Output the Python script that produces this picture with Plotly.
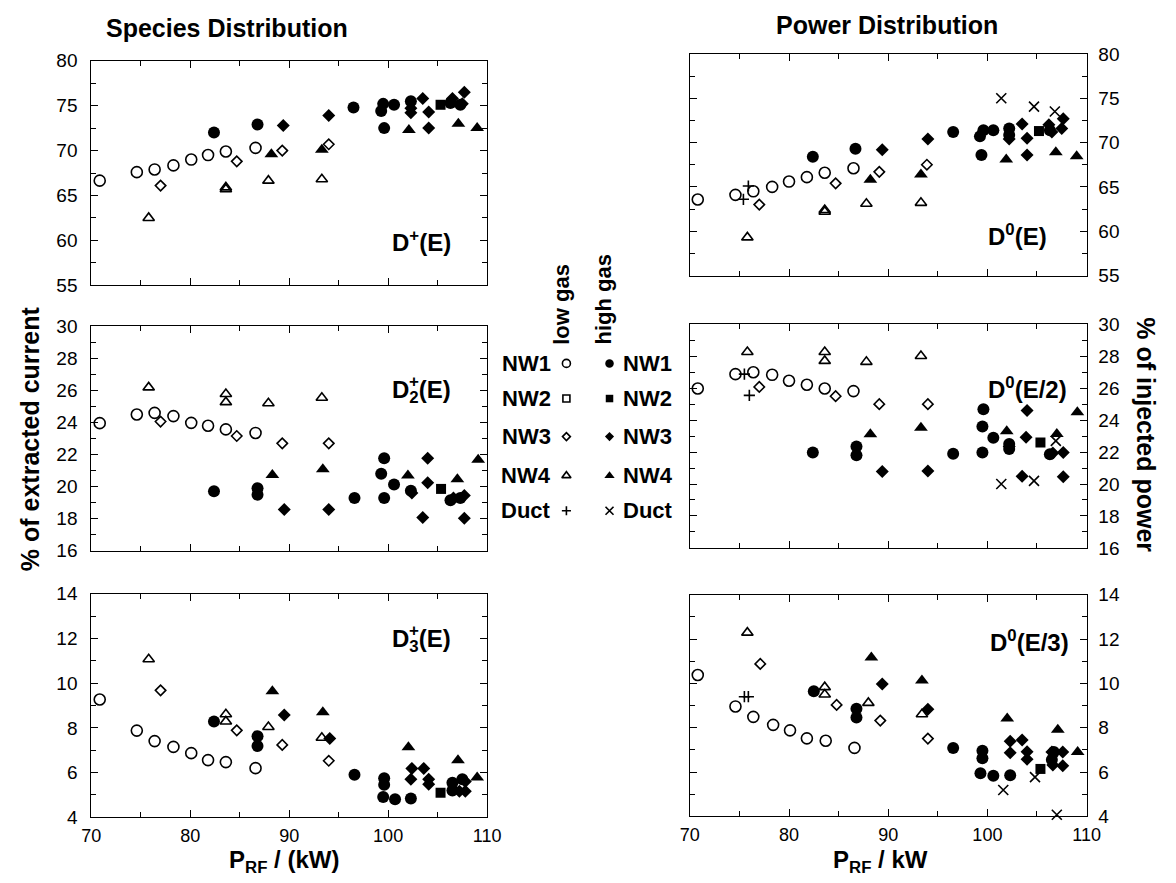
import plotly.graph_objects as go

W, H = 1176, 883
FONT = "Liberation Sans, Arial, Helvetica, sans-serif"

# ---------------- DATA ----------------
# Panel A : D+(E)  (% of extracted current)
A_low_nw1_x = [70.85, 74.6, 76.4, 78.3, 80.1, 81.8, 83.6, 86.6]
A_low_nw1_y = [66.65, 67.6, 67.9, 68.35, 69.0, 69.5, 69.9, 70.3]
A_low_nw3_x = [77.0, 84.7, 89.3, 94.0]
A_low_nw3_y = [66.1, 68.8, 70.0, 70.7]
A_low_nw4_x = [75.8, 83.6, 83.6, 87.9, 93.3]
A_low_nw4_y = [62.5, 65.7, 65.9, 66.65, 66.8]
A_high_nw1_x = [82.4, 86.8, 96.5, 99.3, 99.5, 99.6, 100.6, 102.3, 106.3, 107.3]
A_high_nw1_y = [72.0, 72.9, 74.8, 74.4, 75.2, 72.5, 75.1, 75.5, 75.3, 75.1]
A_high_nw2_x = [105.3]
A_high_nw2_y = [75.1]
A_high_nw3_x = [89.4, 94.0, 102.3, 102.3, 103.5, 104.1, 104.1, 106.5, 107.7, 107.5]
A_high_nw3_y = [72.8, 73.9, 74.7, 74.2, 75.8, 74.3, 72.5, 75.8, 76.5, 75.2]
A_high_nw4_x = [88.2, 93.3, 102.1, 107.1, 109.0]
A_high_nw4_y = [69.6, 70.1, 72.3, 73.0, 72.5]

# Panel B : D2+(E)
B_low_nw1_x = [70.85, 74.6, 76.4, 78.3, 80.1, 81.8, 83.6, 86.6]
B_low_nw1_y = [23.96, 24.5, 24.6, 24.4, 23.98, 23.8, 23.57, 23.35]
B_low_nw3_x = [77.0, 84.7, 89.3, 94.0]
B_low_nw3_y = [24.06, 23.16, 22.7, 22.7]
B_low_nw4_x = [75.8, 83.6, 83.6, 87.9, 93.3]
B_low_nw4_y = [26.19, 25.78, 25.27, 25.2, 25.54]
B_high_nw1_x = [82.4, 86.8, 86.8, 96.6, 99.3, 99.6, 99.6, 100.6, 102.3, 106.3, 107.3]
B_high_nw1_y = [19.72, 19.9, 19.5, 19.29, 20.8, 21.77, 19.29, 20.14, 19.74, 19.15, 19.3]
B_high_nw2_x = [105.35]
B_high_nw2_y = [19.86]
B_high_nw3_x = [89.5, 94.0, 102.4, 104.0, 104.0, 103.5, 106.6, 107.7, 107.7]
B_high_nw3_y = [18.58, 18.58, 19.6, 21.77, 20.25, 18.07, 19.3, 19.45, 18.03]
B_high_nw4_x = [88.3, 93.4, 102.0, 107.0, 109.1]
B_high_nw4_y = [20.73, 21.08, 20.7, 20.46, 21.68]

# Panel C : D3+(E)
C_low_nw1_x = [70.85, 74.6, 76.4, 78.3, 80.1, 81.8, 83.6, 86.6]
C_low_nw1_y = [9.27, 7.88, 7.41, 7.15, 6.87, 6.56, 6.47, 6.2]
C_low_nw3_x = [77.0, 84.7, 89.3, 94.0]
C_low_nw3_y = [9.68, 7.89, 7.24, 6.53]
C_low_nw4_x = [75.8, 83.6, 83.6, 87.9, 93.3]
C_low_nw4_y = [11.07, 8.61, 8.29, 8.04, 7.56]
C_high_nw1_x = [82.4, 86.8, 86.8, 96.6, 99.6, 99.6, 99.5, 100.7, 102.3, 106.5, 106.5, 107.5]
C_high_nw1_y = [8.29, 7.63, 7.19, 5.9, 5.75, 5.46, 4.91, 4.81, 4.84, 5.55, 5.2, 5.7]
C_high_nw2_x = [105.3]
C_high_nw2_y = [5.1]
C_high_nw3_x = [89.5, 94.1, 102.4, 103.6, 102.3, 104.1, 104.1, 107.2, 107.8, 107.8]
C_high_nw3_y = [8.58, 7.53, 6.19, 6.19, 5.7, 5.7, 5.48, 5.17, 5.6, 5.17]
C_high_nw4_x = [88.3, 93.4, 102.05, 107.06, 109.0]
C_high_nw4_y = [9.64, 8.7, 7.13, 6.55, 5.78]

# Panel D : D0(E)  (% of injected power)
D_low_nw1_x = [70.8, 74.6, 76.4, 78.3, 80.0, 81.8, 83.6, 86.5]
D_low_nw1_y = [63.58, 64.1, 64.5, 65.0, 65.6, 66.1, 66.6, 67.1]
D_low_nw3_x = [77.0, 84.7, 89.1, 93.9]
D_low_nw3_y = [63.0, 65.4, 66.7, 67.5]
D_low_nw4_x = [75.8, 83.6, 83.6, 87.8, 93.3]
D_low_nw4_y = [59.3, 62.2, 62.4, 63.1, 63.2]
D_low_duct_x = [75.4, 75.9]
D_low_duct_y = [63.6, 65.1]
D_high_nw1_x = [82.4, 86.7, 96.55, 99.25, 99.6, 99.4, 100.6, 102.2, 102.2, 106.3]
D_high_nw1_y = [68.4, 69.3, 71.2, 70.7, 71.4, 68.6, 71.4, 71.6, 70.85, 71.4]
D_high_nw2_x = [105.2]
D_high_nw2_y = [71.3]
D_high_nw3_x = [89.4, 94.0, 102.2, 103.5, 104.0, 104.0, 106.2, 107.65, 107.5, 106.5]
D_high_nw3_y = [69.2, 70.4, 70.4, 72.1, 70.5, 68.6, 72.0, 72.7, 71.6, 71.2]
D_high_nw4_x = [88.2, 93.3, 101.9, 106.9, 109.0]
D_high_nw4_y = [65.8, 66.4, 68.1, 68.9, 68.45]
D_high_duct_x = [101.4, 104.7, 106.8]
D_high_duct_y = [75.0, 74.05, 73.5]

# Panel E : D0(E/2)
E_low_nw1_x = [70.8, 74.6, 76.4, 78.3, 80.0, 81.8, 83.6, 86.5]
E_low_nw1_y = [25.98, 26.88, 27.0, 26.84, 26.47, 26.22, 25.98, 25.82]
E_low_nw3_x = [77.0, 84.7, 89.1, 94.0]
E_low_nw3_y = [26.08, 25.5, 25.0, 25.0]
E_low_nw4_x = [75.8, 83.6, 83.6, 87.8, 93.3]
E_low_nw4_y = [28.27, 28.27, 27.71, 27.65, 28.02]
E_low_duct_x = [75.5, 76.0]
E_low_duct_y = [26.88, 25.55]
E_high_nw1_x = [82.4, 86.8, 86.8, 96.55, 99.6, 99.5, 99.5, 100.6, 102.2, 102.2, 106.3]
E_high_nw1_y = [21.98, 22.35, 21.8, 21.9, 24.68, 23.6, 21.97, 22.9, 22.5, 22.2, 21.87]
E_high_nw2_x = [105.35]
E_high_nw2_y = [22.6]
E_high_nw3_x = [89.4, 94.0, 102.2, 103.5, 104.0, 103.9, 106.6, 107.65, 107.65]
E_high_nw3_y = [20.78, 20.82, 22.35, 20.48, 24.6, 22.93, 21.95, 21.97, 20.45]
E_high_nw4_x = [88.2, 93.3, 101.95, 107.0, 109.07]
E_high_nw4_y = [23.12, 23.53, 23.3, 23.14, 24.5]
E_high_duct_x = [101.4, 104.7, 106.9]
E_high_duct_y = [20.0, 20.2, 22.7]

# Panel F : D0(E/3)
F_low_nw1_x = [70.8, 74.6, 76.4, 78.4, 80.1, 81.8, 83.7, 86.6]
F_low_nw1_y = [10.38, 8.96, 8.49, 8.13, 7.88, 7.52, 7.41, 7.09]
F_low_nw3_x = [77.1, 84.8, 89.2, 94.0]
F_low_nw3_y = [10.88, 9.03, 8.32, 7.51]
F_low_nw4_x = [75.8, 83.6, 83.6, 88.0, 93.4]
F_low_nw4_y = [12.29, 9.83, 9.5, 9.12, 8.61]
F_low_duct_x = [75.5, 75.9]
F_low_duct_y = [9.4, 9.4]
F_high_nw1_x = [82.5, 86.8, 86.8, 96.55, 99.5, 99.5, 99.3, 100.6, 102.3, 106.5, 106.7]
F_high_nw1_y = [9.65, 8.86, 8.46, 7.09, 6.96, 6.62, 5.94, 5.83, 5.86, 6.55, 6.9]
F_high_nw2_x = [105.35]
F_high_nw2_y = [6.14]
F_high_nw3_x = [89.4, 94.0, 102.3, 102.3, 103.5, 104.0, 104.0, 106.5, 107.6, 106.6, 107.6]
F_high_nw3_y = [9.97, 8.83, 7.39, 6.87, 7.45, 6.91, 6.58, 6.9, 6.9, 6.32, 6.28]
F_high_nw4_x = [88.3, 93.4, 102.0, 107.1, 109.1]
F_high_nw4_y = [11.17, 10.13, 8.42, 7.91, 6.9]
F_high_duct_x = [101.6, 104.8, 107.0]
F_high_duct_y = [5.19, 5.77, 4.07]

# tick / label text
X_TICKS = [70, 80, 90, 100, 110]
LEGEND_NAMES = ["NW1", "NW2", "NW3", "NW4", "Duct"]

# ---------------- STYLE ----------------
STYLE = {
    "low_nw1": dict(symbol="circle-open", size=11, open=True),
    "low_nw2": dict(symbol="square-open", size=8, open=True),
    "low_nw3": dict(symbol="diamond-open", size=8, open=True),
    "low_nw4": dict(symbol="triangle-up-open", size=10, open=True),
    "low_duct": dict(symbol="cross-thin-open", size=8, open=True),
    "high_nw1": dict(symbol="circle", size=12, open=False),
    "high_nw2": dict(symbol="square", size=10, open=False),
    "high_nw3": dict(symbol="diamond", size=10, open=False),
    "high_nw4": dict(symbol="triangle-up", size=12, open=False),
    "high_duct": dict(symbol="x-thin-open", size=10, open=True),
}
# legend key symbols (smaller versions)
KEY_STYLE = {
    "low": [("circle-open", 8), ("square-open", 7), ("diamond-open", 6),
            ("triangle-up-open", 8), ("cross-thin-open", 6.5)],
    "high": [("circle", 8.5), ("square", 7.5), ("diamond", 7),
             ("triangle-up", 9), ("x-thin-open", 8)],
}

G = globals()
def series_of(prefix):
    out = []
    for key in STYLE:
        xn, yn = f"{prefix}_{key}_x", f"{prefix}_{key}_y"
        if xn in G:
            out.append((key, G[xn], G[yn]))
    return out

def px(x):
    return x / W

def py(y):
    return 1 - y / H

# panel geometry (pixels)
LEFT_X = (83, 487)
RIGHT_X = (694, 1099)
PANELS = [
    # prefix, x-pix, y-pix(top,bottom), yrange, dtick, minor, side, show x labels
    ("A", LEFT_X, (52, 282), [55, 80], 5, 2.5, "left", False),
    ("B", LEFT_X, (324, 554), [16, 30], 2, 1, "left", False),
    ("C", LEFT_X, (598, 827), [4, 14], 2, 1, "left", True),
    ("D", RIGHT_X, (45, 272), [55, 80], 5, 2.5, "right", False),
    ("E", RIGHT_X, (322, 551), [16, 30], 2, 1, "right", False),
    ("F", RIGHT_X, (599, 826), [4, 14], 2, 1, "right", True),
]

fig = go.Figure()
layout = dict(
    width=W, height=H, margin=dict(l=0, r=0, t=0, b=0),
    paper_bgcolor="white", plot_bgcolor="rgba(0,0,0,0)", showlegend=False,
    font=dict(family=FONT, color="black", size=19),
)

def mk(symbol, size, is_open):
    return dict(symbol=symbol, size=size, color="black",
                line=dict(color="black", width=1.6 if is_open else 0))

for i, (prefix, xp, yp, yr, dt, mdt, side, showx) in enumerate(PANELS, start=1):
    xa = "x" if i == 1 else f"x{i}"
    ya = "y" if i == 1 else f"y{i}"
    for key, xs, ys in series_of(prefix):
        st = STYLE[key]
        fig.add_trace(go.Scatter(
            x=xs, y=ys, mode="markers", xaxis=xa, yaxis=ya, cliponaxis=False,
            marker=mk(st["symbol"], st["size"], st["open"]), hoverinfo="skip"))
    common = dict(showline=True, linecolor="black", linewidth=1, mirror="ticks",
                  ticks="inside", ticklen=7, tickwidth=1, tickcolor="black",
                  showgrid=False, zeroline=False,
                  tickfont=dict(family=FONT, size=19, color="black"))
    layout["xaxis" if i == 1 else f"xaxis{i}"] = dict(
        common, domain=[px(xp[0]), px(xp[1])], anchor=ya, range=[70, 110],
        tickmode="array", tickvals=X_TICKS, ticktext=[str(v) for v in X_TICKS],
        showticklabels=showx, ticklabelstandoff=2,
        tickfont=dict(family=FONT, size=18, color="black"),
        minor=dict(ticks="inside", tickvals=[75, 85, 95, 105], ticklen=5,
                   tickcolor="black", showgrid=False))
    layout["yaxis" if i == 1 else f"yaxis{i}"] = dict(
        common, domain=[py(yp[1]), py(yp[0])], anchor=xa, range=yr,
        dtick=dt, tick0=yr[0], side=side,
        ticklabelstandoff=9 if side == "left" else 7,
        minor=dict(ticks="inside", dtick=mdt, ticklen=5, tickcolor="black",
                   showgrid=False))

# hidden pixel-space axis for the central legend keys
LEG_ROWS = [362, 398, 437, 477, 513]
LEG_KEY_X = {"low": 568, "high": 612}
for grp in ("low", "high"):
    for (sym, sz), r in zip(KEY_STYLE[grp], LEG_ROWS):
        fig.add_trace(go.Scatter(
            x=[LEG_KEY_X[grp]], y=[r], mode="markers", xaxis="x7", yaxis="y7",
            cliponaxis=False, hoverinfo="skip",
            marker=mk(sym, sz, sym.endswith("open"))))
layout["xaxis7"] = dict(domain=[0, 1], range=[0, W], visible=False, anchor="y7",
                        fixedrange=True)
layout["yaxis7"] = dict(domain=[0, 1], range=[H, 0], visible=False, anchor="x7",
                        fixedrange=True)

ann = []
def add_text(text, x, y, size=24, bold=True, xanchor="center", yanchor="middle",
             angle=0, xref="paper", yref="paper", xshift=0, yshift=0):
    ann.append(dict(text=f"<b>{text}</b>" if bold else text, x=x, y=y,
                    xref=xref, yref=yref, showarrow=False, xanchor=xanchor,
                    yanchor=yanchor, textangle=angle, xshift=xshift, yshift=yshift,
                    font=dict(family=FONT, size=size, color="black")))

# titles
add_text("Species Distribution", px(222), py(18), size=25)
add_text("Power Distribution", px(895), py(15), size=25)
# axis titles (sit at the very bottom edge, as in the scan)
add_text("P<sub>RF</sub> / (kW)", px(280), 0, size=24, yanchor="bottom", yshift=-7)
add_text("P<sub>RF</sub> / kW", px(889), 0, size=24, yanchor="bottom", yshift=-7)
add_text("% of extracted current", px(20), py(439), size=25, angle=-90)
add_text("% of injected power", px(1160), py(435), size=25, angle=90)

# panel labels (data coordinates)
add_text("D<sup>+</sup>(E)", 100.2, 59.9, xref="x", yref="y", xanchor="left")
add_text("D<sup>0</sup>(E)", 99.9, 59.6, xref="x4", yref="y4", xanchor="left")
add_text("D<sup>0</sup>(E/2)", 99.9, 26.0, xref="x5", yref="y5", xanchor="left")
add_text("D<sup>0</sup>(E/3)", 100.1, 11.9, xref="x6", yref="y6", xanchor="left")
# stacked sub + superscript labels
for xr, yr_, xv, yv, sub in [("x2", "y2", 100.2, 25.94, "2"),
                             ("x3", "y3", 100.2, 11.9, "3")]:
    add_text(f"D<sub>{sub}</sub>(E)", xv, yv, xref=xr, yref=yr_, xanchor="left")
    add_text("+", xv, yv, xref=xr, yref=yr_, xanchor="left", size=17,
             xshift=17, yshift=10)

# central legend
add_text("low gas", px(563), py(345), size=22, angle=-90, yanchor="bottom")
add_text("high gas", px(606), py(345), size=22, angle=-90, yanchor="bottom")
for name, r in zip(LEGEND_NAMES, LEG_ROWS):
    add_text(name, px(554), py(r), size=22, xanchor="right")
    add_text(name, px(624), py(r), size=22, xanchor="left")

layout["annotations"] = ann
fig.update_layout(**layout)
fig.write_html("out.html")
